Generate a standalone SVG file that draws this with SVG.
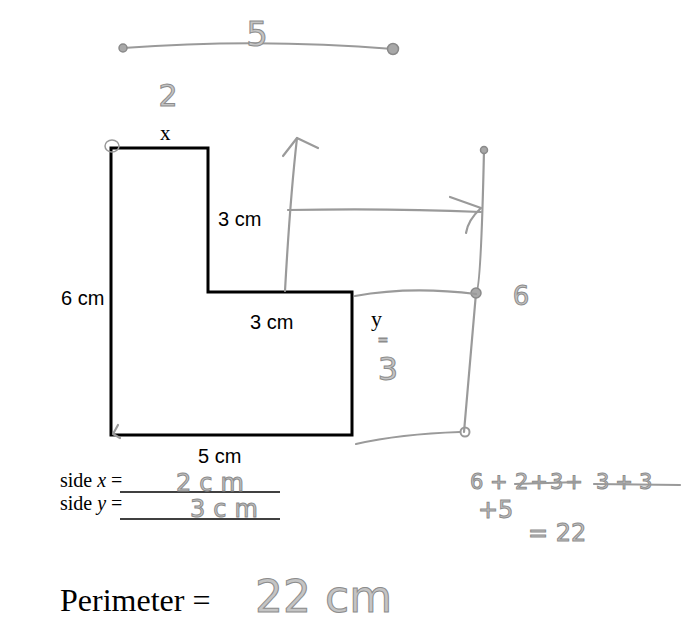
<svg xmlns="http://www.w3.org/2000/svg" width="685" height="633" viewBox="0 0 685 633">
<style>
.pen{fill:none;stroke:#9a9a9a;stroke-width:2.2;stroke-linecap:round;stroke-linejoin:round}
.dot{fill:#a8a8a8;stroke:#8a8a8a;stroke-width:1.5}
.hand{font-family:"DejaVu Sans","Noto Sans",sans-serif;fill:#c4c4c4;stroke:#8c8c8c;stroke-width:1}
.lbl{font-family:"Liberation Sans",Arial,sans-serif;font-size:20px;fill:#000}
.ser{font-family:"Liberation Serif","Times New Roman",serif;fill:#000}
</style>
<rect width="685" height="633" fill="#fff"/>
<g id="shape">
<path d="M111,148 H208 V292 H352 V435 H111 Z" fill="none" stroke="#000" stroke-width="3"/>
</g>
<g id="labels">
<text class="ser" x="160" y="140" font-size="21">x</text>
<text class="lbl" x="218" y="226">3 cm</text>
<text class="lbl" x="61" y="305">6 cm</text>
<text class="lbl" x="250" y="329">3 cm</text>
<text class="ser" x="371" y="326" font-size="22">y</text>
<text class="lbl" x="198" y="463">5 cm</text>
<text class="ser" x="60" y="487" font-size="20">side <tspan font-style="italic">x</tspan> =</text>
<text class="ser" x="60" y="510" font-size="20">side <tspan font-style="italic">y</tspan> =</text>
<line x1="120" y1="492" x2="280" y2="492" stroke="#000" stroke-width="1.3"/>
<line x1="120" y1="519" x2="280" y2="519" stroke="#000" stroke-width="1.3"/>
<text class="ser" x="60" y="611" font-size="32">Perimeter =</text>
</g>
<g id="connectors">
<path class="pen" d="M123,48 Q258,38 393,49"/>
<circle class="dot" cx="123" cy="48" r="4"/>
<circle class="dot" cx="393" cy="49" r="5.5"/>
<ellipse cx="112" cy="146" rx="7" ry="6" fill="none" stroke="#999" stroke-width="1.5"/>
<path class="pen" d="M285,291 Q290,200 297,138"/>
<path class="pen" d="M283,156 L297,138 L318,148"/>
<path class="pen" d="M288,210 Q390,208 481,212"/>
<path class="pen" d="M450,197 L481,208 Q468,220 466,233"/>
<path class="pen" d="M484,150 Q481,290 476,293 Q470,360 464,432"/>
<circle class="dot" cx="484" cy="150" r="3.5"/>
<circle class="dot" cx="476" cy="293" r="5"/>
<circle cx="465" cy="432" r="4.5" fill="none" stroke="#999" stroke-width="2"/>
<path class="pen" d="M355,296 Q410,286 476,294"/>
<path class="pen" d="M460,432 Q400,434 356,444"/>
<path class="pen" d="M118,425 L113,434 L120,438" stroke-width="1.5"/>
</g>
<g id="handwriting">
<text class="hand" x="257" y="46" font-size="34" text-anchor="middle">5</text>
<text class="hand" x="168" y="106" font-size="30" text-anchor="middle">2</text>
<text class="hand" x="521" y="305" font-size="26" text-anchor="middle">6</text>
<text class="hand" x="383" y="344" font-size="13" text-anchor="middle">=</text>
<text class="hand" x="388" y="380" font-size="32" text-anchor="middle">3</text>
<text class="hand" x="176" y="491" font-size="24" letter-spacing="8">2cm</text>
<text class="hand" x="190" y="517" font-size="24" letter-spacing="8">3cm</text>
<text class="hand" x="255" y="612" font-size="44">22 cm</text>
<text class="hand" x="470" y="489" font-size="21">6 +</text>
<text class="hand" x="515" y="489" font-size="21" letter-spacing="2">2+3+</text>
<text class="hand" x="596" y="489" font-size="21" letter-spacing="6">3+3</text>
<path class="pen" d="M515,484 L580,482 M594,484 L680,485" stroke-width="2"/>
<text class="hand" x="478" y="518" font-size="24">+5</text>
<text class="hand" x="528" y="541" font-size="24">= 22</text>
</g>
</svg>
